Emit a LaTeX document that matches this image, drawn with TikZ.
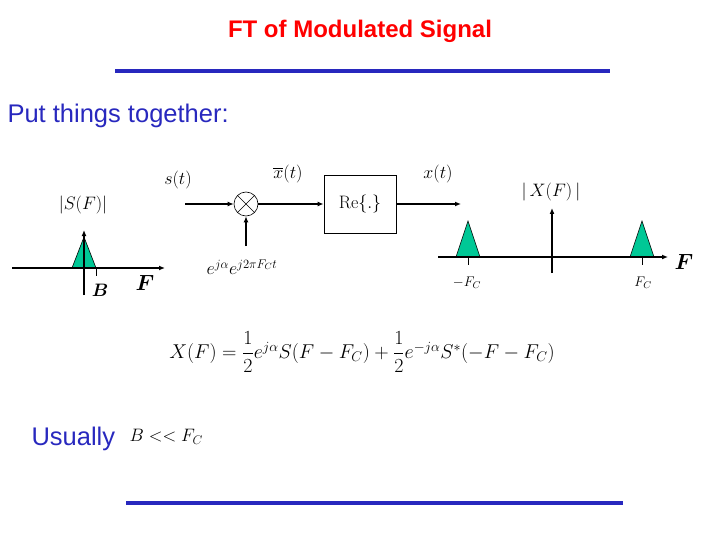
\documentclass[tikz,border=0pt]{standalone}
\usepackage{fix-cm}
\usepackage{amsmath,bm}
\usepackage{fontspec}
\setsansfont{Liberation Sans}
\usetikzlibrary{arrows.meta}
\definecolor{tgreen}{RGB}{0,200,150}
\definecolor{tblue}{RGB}{40,40,190}
\begin{document}
\begin{tikzpicture}[x=1pt,y=-1pt,
  ln/.style={line width=1.6pt,-{Latex[length=6pt,width=5pt]}},
  tri/.style={fill=tgreen,draw=black,line width=0.6pt},
  lab/.style={font=\fontsize{18}{20}\selectfont},
  sml/.style={font=\fontsize{14}{16}\selectfont},
  bluetext/.style={font=\sffamily\fontsize{25.5}{30}\selectfont,text=tblue,anchor=west}]
\useasboundingbox (0,0) rectangle (720,540);
\node[font=\sffamily\bfseries\fontsize{24}{28}\selectfont,text=red] (title) at (360,31) {FT of Modulated Signal};
\coordinate (l1a) at (115,71); \coordinate (l1b) at (610,71);
\draw[tblue,line width=4pt] (l1a) -- (l1b);
\node[bluetext] (put) at (4,116) {Put things together:};
% left spectrum
\coordinate (la0) at (12,268); \coordinate (la1) at (165,268);
\coordinate (lv0) at (84,295); \coordinate (lv1) at (84,230);
\draw[tri] (72,268) -- (84,237) -- (96,268) -- cycle;
\draw[ln] (la0) -- (la1);
\draw[ln] (lv0) -- (lv1);
\draw[line width=0.8pt] (96,268) -- (96,276);
\node[lab] (sf) at (83,205) {$|S(F)|$};
\node[lab] (B) at (100,290) {$\bm{B}$};
\node[font=\fontsize{22}{24}\selectfont] (F1) at (145,283) {$\bm{F}$};
% mixer
\node[circle,draw,minimum size=24pt,inner sep=0pt,line width=0.6pt] (mix) at (246,204) {};
\draw[line width=0.6pt] (mix.north west) -- (mix.south east) (mix.north east) -- (mix.south west);
\coordinate (sin) at (185,204);
\draw[ln] (sin) -- (mix);
\node[lab] (st) at (178,180) {$s(t)$};
\coordinate (ein) at (246,246);
\draw[ln] (ein) -- (mix);
\node[lab] (exp) at (242,267) {$e^{j\alpha}e^{j2\pi F_C t}$};
\node[draw,line width=0.8pt,minimum width=72pt,minimum height=58pt,font=\fontsize{18}{20}\selectfont] (re) at (360,204) {$\mathrm{Re}\{.\}$};
\draw[ln] (mix) -- (re);
\node[lab] (xb) at (288,174) {$\overline{x}(t)$};
\coordinate (xout) at (461,204);
\draw[ln] (re) -- (xout);
\node[lab] (xt) at (438,174) {$x(t)$};
% right spectrum
\draw[tri] (456,257) -- (468,221) -- (480,257) -- cycle;
\draw[tri] (630,257) -- (642,221) -- (654,257) -- cycle;
\coordinate (ra0) at (438,257); \coordinate (ra1) at (668,257);
\coordinate (rv0) at (552,273); \coordinate (rv1) at (552,208);
\draw[ln] (ra0) -- (ra1);
\draw[ln] (rv0) -- (rv1);
\draw[line width=0.6pt] (468,257) -- (468,265) (642,257) -- (642,265);
\node[lab] (xf) at (551,192) {$|\,X(F)\,|$};
\node[font=\fontsize{22}{24}\selectfont] (F2) at (684,262) {$\bm{F}$};
\node[sml] (mfc) at (467,283) {$-F_C$};
\node[sml] (fc) at (643,283) {$F_C$};
% equation
\node[font=\fontsize{20}{22}\selectfont] (eq) at (362,352) {$X(F)=\dfrac{1}{2}e^{j\alpha}S(F-F_C)+\dfrac{1}{2}e^{-j\alpha}S^{*}(-F-F_C)$};
\node[bluetext] (us) at (28,439) {Usually};
\node[lab,anchor=west] (bf) at (126,437) {$B << F_C$};
\coordinate (l2a) at (126,503); \coordinate (l2b) at (623,503);
\draw[tblue,line width=4pt] (l2a) -- (l2b);
\end{tikzpicture}
\end{document}
